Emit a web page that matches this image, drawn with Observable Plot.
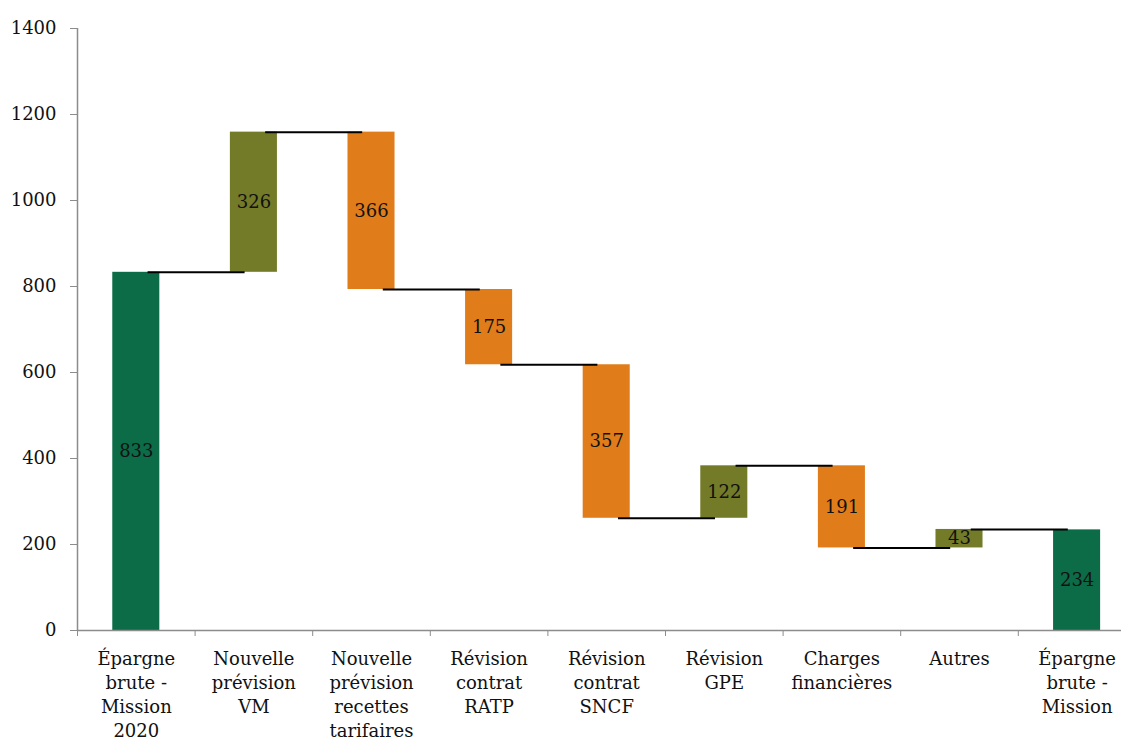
<!DOCTYPE html>
<html><head><meta charset="utf-8">
<script src="https://cdn.jsdelivr.net/npm/d3@7"></script>
<script src="https://cdn.jsdelivr.net/npm/@observablehq/plot@0.6"></script>
<style>
body{margin:0;background:#fff}
#chart svg [aria-label="y-axis tick"], #chart svg [aria-label="x-axis tick"] {stroke:#8c8c8c}
#chart svg [aria-label="y-axis"] line, #chart svg [aria-label="x-axis"] line {stroke:#8c8c8c}
</style>
</head><body><div id="chart"></div>
<script>
const categories = [
  "Épargne\nbrute -\nMission\n2020",
  "Nouvelle\nprévision\nVM",
  "Nouvelle\nprévision\nrecettes\ntarifaires",
  "Révision\ncontrat\nRATP",
  "Révision\ncontrat\nSNCF",
  "Révision\nGPE",
  "Charges\nfinancières",
  "Autres",
  "Épargne\nbrute -\nMission"
];
const deltas = [833, 326, -366, -175, -357, 122, -191, 43, 234];
const kinds = ["total", "up", "down", "down", "down", "up", "down", "up", "total"];
const yTicks = [0, 200, 400, 600, 800, 1000, 1200, 1400];
const kindColors = {total: "#0c6c47", up: "#737b28", down: "#e07c1a"};

// build waterfall table
let running = 0;
const bars = categories.map((c, i) => {
  let start, end;
  if (kinds[i] === "total") { start = 0; end = deltas[i]; running = deltas[i]; }
  else { start = running; end = running + deltas[i]; running = end; }
  return {i, cat: c, start, end, kind: kinds[i], label: Math.abs(deltas[i])};
});
const connectors = bars.slice(0, -1).map(b => ({i: b.i, level: b.end}));

const plot = Plot.plot({
  width: 1121,
  height: 740,
  marginLeft: 77,
  marginRight: 0,
  marginTop: 28,
  marginBottom: 110,
  style: {fontFamily: "DejaVu Serif", fontSize: "18px", color: "#111", background: "#fff"},
  x: {domain: [0, categories.length], range: [77, 77 + 117.6 * categories.length],
      ticks: d3.range(categories.length + 1), tickFormat: () => "", tickSize: 6, label: null},
  y: {domain: [0, 1400], ticks: yTicks, tickFormat: d => String(d), tickSize: 7, tickPadding: 14, label: null},
  marks: [
    Plot.rectY(bars, {x1: d => d.i + 0.3, x2: d => d.i + 0.7, y1: "start", y2: "end",
      fill: d => kindColors[d.kind]}),
    Plot.ruleY(connectors, {x1: d => d.i + 0.6, x2: d => d.i + 1.425, y: "level",
      stroke: "#000", strokeWidth: 2}),
    Plot.text(bars, {x: d => d.i + 0.5, y: d => (d.start + d.end) / 2, text: d => String(d.label),
      fontSize: 18, fill: "#111"}),
    Plot.ruleX([0], {stroke: "#8c8c8c", strokeWidth: 1.5}),
    Plot.ruleY([0], {stroke: "#8c8c8c", strokeWidth: 1.5}),
    Plot.text(bars, {x: d => d.i + 0.5, y: 0, text: "cat", lineAnchor: "top", dy: 17,
      lineHeight: 1.34, fontSize: 18, fill: "#111"})
  ]
});
document.getElementById("chart").appendChild(plot);
</script>
</body></html>
